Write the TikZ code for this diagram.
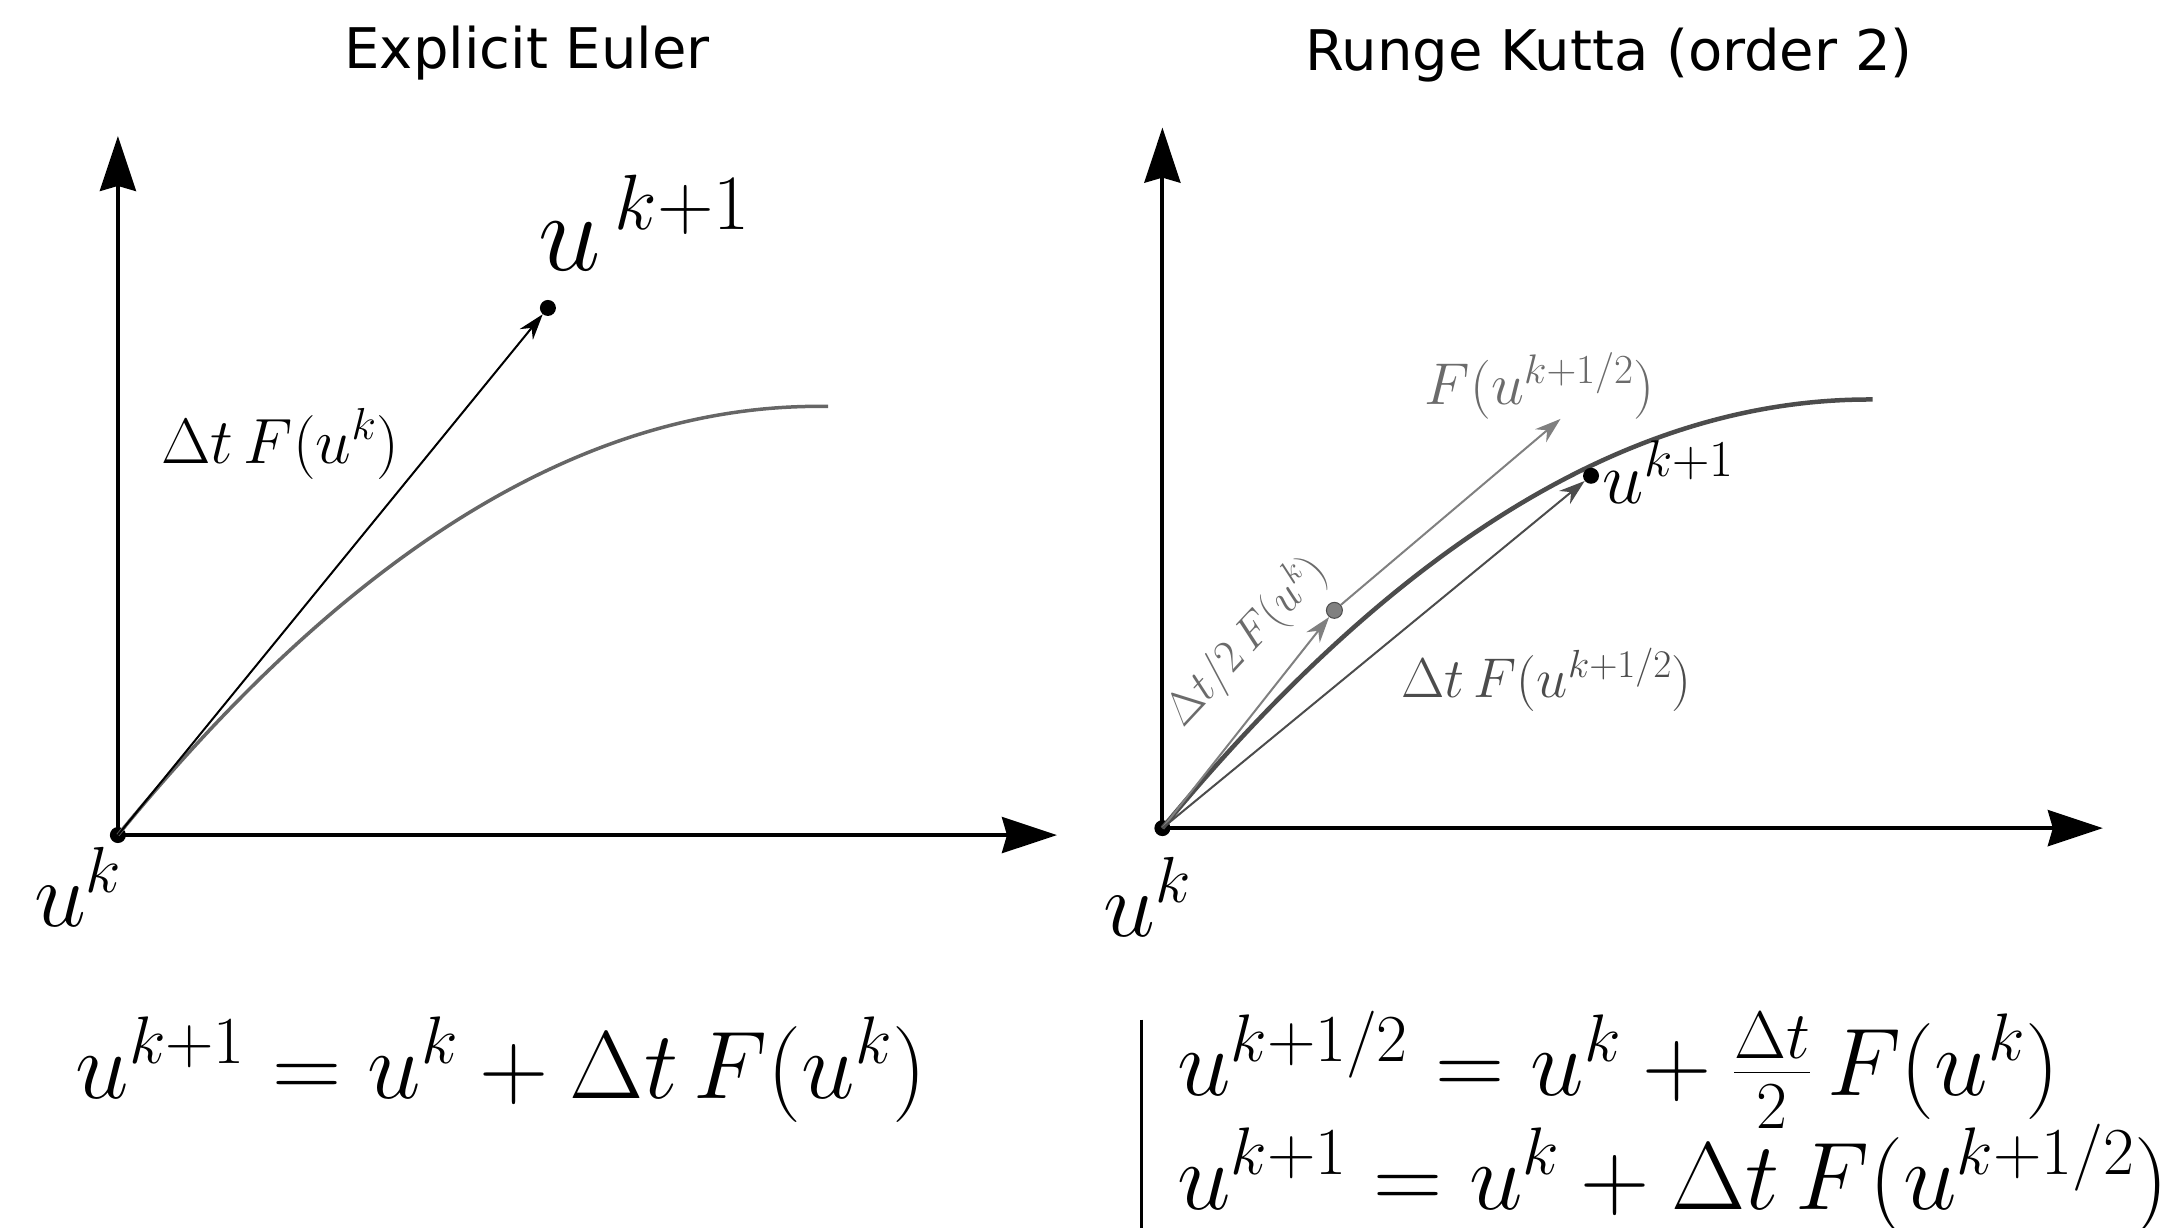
\RequirePackage{fix-cm}
\documentclass[tikz,border=0pt]{standalone}
\usepackage{fontspec}
\setsansfont{DejaVu Sans}
\usetikzlibrary{arrows.meta}
\definecolor{curvegray}{gray}{0.4}
\definecolor{curvedark}{gray}{0.3}
\definecolor{arrgray}{gray}{0.5}
\definecolor{labgray}{gray}{0.42}
\begin{document}
\begin{tikzpicture}[x=1.3871pt,y=-1.3871pt,
  axis/.style={line width=4pt,-{Stealth[length=55pt,width=36pt,inset=5pt]}},
  traj/.style={line width=3.5pt,draw=curvegray},
  vec/.style={line width=2pt,-{Stealth[length=26pt,width=17pt]}},
  dot/.style={circle,fill=black,inner sep=0pt,minimum size=16pt},
  title/.style={font=\sffamily\fontsize{56}{67}\selectfont},
  eqfont/.style={font=\fontsize{96}{106}\selectfont},
]
\path[use as bounding box] (0,0) rectangle (1568,885);

% ---------------- left panel ----------------
\node[title] (t1) at (380,38) {Explicit Euler};
\node[dot] (o1) at (85,602) {};
\coordinate (y1) at (85,98);
\coordinate (x1) at (762,602);
\draw[axis] (o1.center) -- (y1);
\draw[axis] (o1.center) -- (x1);
\draw[traj] (o1.center) .. controls (250,400) and (420,290) .. (597,293);
\node[dot] (e1) at (395,222) {};
\draw[vec] (o1.center) -- (e1);
\node[anchor=base west,font=\fontsize{112}{120}\selectfont] (l1) at (386,195) {$u^{\mkern3mu k+1}$};
\node[font=\fontsize{64}{70}\selectfont] (d1) at (202,320) {$\Delta t\,F(u^k)$};
\node[anchor=base west,font=\fontsize{93}{100}\selectfont] (k1) at (22,668) {$u^k$};
\node[anchor=base west,eqfont] (eq1) at (52,792) {$u^{k+1} = u^k + \Delta t\,F(u^k)$};

% ---------------- right panel ----------------
\node[title] (t2) at (1160,40) {Runge Kutta (order 2)};
\node[dot] (o2) at (838,597) {};
\coordinate (y2) at (838,92);
\coordinate (x2) at (1516,597);
\draw[axis] (o2.center) -- (y2);
\draw[axis] (o2.center) -- (x2);
\draw[traj,draw=curvedark,line width=4.5pt] (o2.center) .. controls (1003,397) and (1173,287) .. (1350,288);
\node[dot,fill=arrgray,draw=curvedark,line width=1pt] (m2) at (962,440) {};
\draw[vec,draw=arrgray,fill=arrgray] (o2.center) -- (m2);
\coordinate (f2) at (1125,302);
\draw[vec,draw=arrgray,fill=arrgray] (m2) -- (f2);
\node[dot] (e2) at (1147,343) {};
\draw[vec,draw=curvedark,fill=black] (o2.center) -- (e2);
\node[anchor=base west,font=\fontsize{74}{80}\selectfont] (l2) at (1153,363) {$u^{k+1}$};
\node[text=labgray,font=\fontsize{59}{64}\selectfont] (f2l) at (1110,278) {$F(u^{k+1/2})$};
\node[text=curvedark,font=\fontsize{56}{62}\selectfont] (d2) at (1115,490) {$\Delta t\,F(u^{k+1/2})$};
\node[text=labgray,rotate=47,font=\fontsize{46}{50}\selectfont] (h2) at (898,462) {$\Delta t/2\,F(u^k)$};
\node[anchor=base west,font=\fontsize{93}{100}\selectfont] (k2) at (793,675) {$u^k$};

\draw[line width=3pt] (823,735) -- (823,885);
\node[anchor=base west,eqfont] (eq2) at (846,790) {$u^{k+1/2} = u^k + \frac{\Delta t}{2}\,F(u^k)$};
\node[anchor=base west,eqfont] (eq3) at (846,872) {$u^{k+1} = u^k + \Delta t\,F(u^{k+1/2})$};
\end{tikzpicture}
\end{document}
